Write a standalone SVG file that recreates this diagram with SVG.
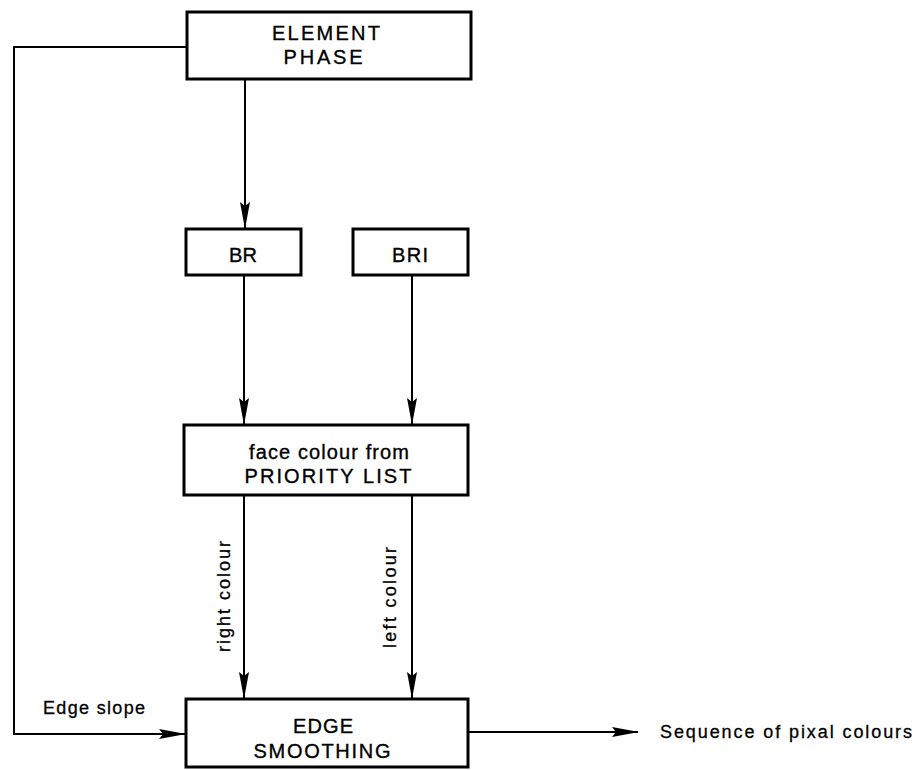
<svg xmlns="http://www.w3.org/2000/svg" width="919" height="770" viewBox="0 0 919 770">
  <style>
    .box { fill: #ffffff; stroke: #000000; stroke-width: 3; }
    .arrow { fill: none; stroke: #000000; stroke-width: 2; marker-end: url(#ah); }
    .t { font-family: "Liberation Sans", Arial, sans-serif; font-size: 20px; fill: #000000; stroke: #000000; stroke-width: 0.35; text-anchor: middle; }
    .lbl { font-family: "Liberation Sans", Arial, sans-serif; font-size: 18px; fill: #000000; stroke: #000000; stroke-width: 0.3; }
  </style>
  <defs>
    <marker id="ah" viewBox="0 0 27 10" markerWidth="27" markerHeight="10" refX="26" refY="5" orient="auto" markerUnits="userSpaceOnUse">
      <path d="M0,0 L27,5 L0,10 L4,5 Z" fill="#000000"/>
    </marker>
  </defs>
  <rect width="919" height="770" fill="#ffffff"/>

  <g id="connectors">
    <path class="arrow" d="M187,47 L14,47 L14,734 L185,734"/>
    <path class="arrow" d="M245,79 L245,228"/>
    <path class="arrow" d="M244,275 L244,424"/>
    <path class="arrow" d="M412,275 L412,424"/>
    <path class="arrow" d="M244,495 L244,698"/>
    <path class="arrow" d="M412,495 L412,698"/>
    <path class="arrow" d="M468,732 L638,732"/>
    <text class="lbl" x="43" y="714" textLength="102" lengthAdjust="spacing">Edge slope</text>
    <text class="lbl" transform="translate(230,652) rotate(-90)" x="0" y="0" textLength="111" lengthAdjust="spacing">right colour</text>
    <text class="lbl" transform="translate(396,648) rotate(-90)" x="0" y="0" textLength="101" lengthAdjust="spacing">left colour</text>
    <text class="lbl" x="660" y="738" font-size="19" textLength="252" lengthAdjust="spacing">Sequence of pixal colours</text>
  </g>

  <g id="element-phase">
    <rect class="box" x="187" y="12" width="284" height="67"/>
    <text class="t" x="326" y="40" textLength="108" lengthAdjust="spacing">ELEMENT</text>
    <text class="t" x="323" y="64" textLength="79" lengthAdjust="spacing">PHASE</text>
  </g>

  <g id="br">
    <rect class="box" x="186" y="229" width="115" height="46"/>
    <text class="t" x="243" y="262" textLength="28" lengthAdjust="spacing">BR</text>
  </g>

  <g id="bri">
    <rect class="box" x="353" y="229" width="115" height="46"/>
    <text class="t" x="410" y="262" textLength="36" lengthAdjust="spacing">BRI</text>
  </g>

  <g id="priority-list">
    <rect class="box" x="184" y="425" width="284" height="70"/>
    <text class="t" x="329" y="459" textLength="160" lengthAdjust="spacing">face colour from</text>
    <text class="t" x="328" y="483" textLength="167" lengthAdjust="spacing">PRIORITY LIST</text>
  </g>

  <g id="edge-smoothing">
    <rect class="box" x="186" y="699" width="282" height="68"/>
    <text class="t" x="323" y="733" textLength="60" lengthAdjust="spacing">EDGE</text>
    <text class="t" x="322" y="758" textLength="137" lengthAdjust="spacing">SMOOTHING</text>
  </g>
</svg>
